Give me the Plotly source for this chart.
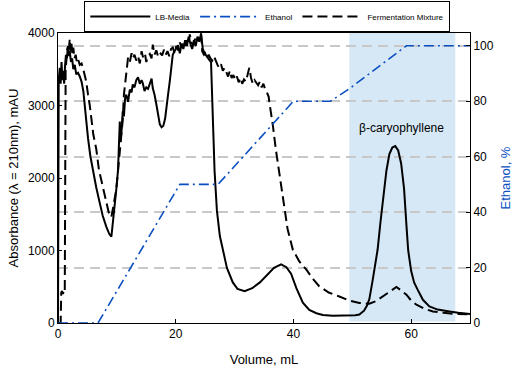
import plotly.graph_objects as go

# ---------------- data ----------------
lb_x = [0, 0.12, 0.3, 0.45, 0.6, 0.75, 0.9, 1.05, 1.2, 1.35, 1.5, 1.7, 1.85, 2.0, 2.2, 2.4, 2.6, 2.85,
        3.1, 3.4, 3.7, 4.0, 4.3, 4.7, 5.1, 5.5, 5.94, 6.5, 7.08, 7.6, 8.2, 8.7, 9.07, 9.3, 9.6, 9.9,
        10.2, 10.4, 10.5, 10.6, 10.8, 11.0, 11.2, 11.4, 11.6, 11.9, 12.2, 12.5, 12.7, 13.0, 13.3, 13.6,
        13.9, 14.2, 14.4, 14.7, 15.0, 15.3, 15.6, 15.9, 16.1, 16.4, 16.7, 17.0, 17.3, 17.6, 17.9, 18.2,
        18.4, 18.7, 19.0, 19.3, 19.5, 19.8, 20.1, 20.4, 20.7, 21.0, 21.3, 21.6, 21.9, 22.2, 22.5, 22.8,
        23.1, 23.4, 23.7, 24.0, 24.3, 24.6, 24.9, 25.2, 25.5, 25.8, 26.0, 26.2, 26.4, 26.6, 26.8, 27.0,
        27.5, 28.0, 28.7, 29.7, 30.5, 31.7, 33.0, 34.3, 35.4, 36.7, 37.9, 38.8, 39.6, 40.5, 41.6, 42.7,
        43.9, 45.0, 46.7, 48.0, 49.5, 50.5, 51.2, 52.0, 52.5, 52.9, 53.4, 53.8, 54.3, 54.8, 55.3, 55.8,
        56.3, 56.8, 57.3, 57.8, 58.3, 58.8, 59.2, 59.5, 60.0, 60.5, 61.1, 62.0, 63.1, 64.5, 66.5, 68.0, 70.0]
lb_y = [0, 3350, 3520, 3300, 3600, 3350, 3480, 3300, 3550, 3700, 3650, 3820, 3680, 3750, 3600, 3650, 3500, 3560,
        3430, 3450, 3400, 3330, 3200, 2850, 2550, 2300, 2100, 1870, 1660, 1480, 1330, 1230, 1190, 1350, 1600, 1840,
        2110, 2450, 2780, 2500, 2650, 2920, 2850, 3100, 3150, 3050, 3220, 3180, 3290, 3250, 3350, 3390,
        3300, 3350, 3310, 3200, 3250, 3230, 3300, 3370, 3240, 3150, 3020, 2850, 2740, 2700, 2720, 2820,
        2930, 3150, 3340, 3550, 3700, 3750, 3800, 3830, 3720, 3850, 3780, 3900, 3820, 3950, 3850, 3780,
        3900, 3820, 3950, 3880, 3990, 3780, 3720, 3680, 3650, 3620, 3600, 3200, 2600, 2100, 1750, 1550,
        1200, 1000, 760, 560, 470, 440, 480, 560, 650, 760, 810, 770, 680, 480, 280, 180,
        135, 110, 100, 100, 102, 108, 118, 170, 240, 330, 560, 780, 1010, 1400, 1800, 2100,
        2330, 2420, 2440, 2380, 2200, 1850, 1350, 1000, 720, 560, 460, 320, 230, 185, 160, 140, 125]

fm_x = [0, 0.45, 0.55, 0.7, 0.85, 1.0, 1.15, 1.22, 1.3, 1.45, 1.6, 1.75, 1.9, 2.0, 2.15, 2.3, 2.45, 2.6,
        2.8, 3.0, 3.2, 3.4, 3.7, 4.0, 4.24, 4.5, 4.8, 5.1, 5.4, 6.0, 6.5, 6.96, 7.6, 8.2, 8.6, 9.07, 9.4,
        9.9, 10.2, 10.5, 10.8, 11.0, 11.2, 11.4, 11.6, 11.9, 12.2, 12.5, 12.7, 13.0, 13.3, 13.6, 13.9,
        14.2, 14.5, 14.8, 15.0, 15.3, 15.6, 15.9, 16.1, 16.4, 16.7, 17.0, 17.3, 17.7, 18.0, 18.3, 18.6,
        18.9, 19.2, 19.5, 19.8, 20.1, 20.4, 20.7, 21.0, 21.3, 21.6, 21.9, 22.2, 22.4, 22.7, 23.0, 23.3,
        23.6, 23.8, 24.1, 24.3, 24.5, 24.8, 25.0, 25.3, 25.6, 25.9, 26.2, 26.5, 26.8, 27.1, 27.4, 27.7,
        28.0, 28.3, 28.6, 28.9, 29.2, 29.5, 29.8, 30.1, 30.4, 30.7, 31.0, 31.3, 31.6, 31.9, 32.2, 32.5,
        32.8, 33.1, 33.4, 33.7, 34.0, 34.3, 34.6, 34.9, 35.2, 35.5, 35.8, 35.9, 36.2, 36.5, 37.0, 37.6,
        38.2, 39.0, 39.9, 41.0, 42.2, 43.3, 44.4, 46.0, 47.8, 49.5, 51.2, 52.9, 54.0, 55.2, 56.3, 57.5,
        58.3, 59.2, 60.0, 60.9, 62.3, 63.7, 65.5, 67.1, 70.0]
fm_y = [0, 0, 420, 440, 400, 450, 430, 2500, 3500, 3650, 3800, 3700, 3880, 3920, 3750, 3850, 3700, 3800,
        3650, 3700, 3600, 3640, 3560, 3580, 3520, 3420, 3330, 3150, 3000, 2600, 2400, 2110, 1880, 1680, 1530, 1460, 1600,
        1840, 2100, 2340, 2650, 2800, 3150, 3300, 3500, 3660, 3600, 3720, 3650, 3700, 3620, 3680, 3580,
        3750, 3650, 3700, 3600, 3680, 3710, 3650, 3840, 3700, 3760, 3680, 3730, 3690, 3770, 3700, 3750,
        3680, 3780, 3800, 3720, 3820, 3760, 3870, 3800, 3890, 3820, 3900, 3850, 3980, 3860, 3840, 3920,
        3870, 3940, 3900, 4000, 3750, 3700, 3720, 3660, 3700, 3650, 3620, 3680, 3610, 3560, 3520, 3570,
        3480, 3520, 3460, 3400, 3480, 3380, 3420, 3350, 3400, 3320, 3380, 3300, 3360, 3330, 3420, 3520,
        3380, 3300, 3350, 3320, 3280, 3330, 3250, 3300, 3220, 3180, 3120, 3050, 2900, 2730, 2400, 2050,
        1700, 1300, 1010, 850, 735, 610, 505, 420, 365, 310, 276, 266, 300, 367, 430, 497,
        450, 390, 310, 252, 195, 160, 140, 128, 118]

eth_x = [0, 6.8, 20.7, 27.2, 40.0, 46.3, 49.5, 59.2, 70.0]
eth_y = [0, 0, 50, 50, 80, 80, 84.5, 100, 100]

shade_range = [49.5, 67.5]
peak_label = "β-caryophyllene"
peak_pos = (58.3, 2690)

x_ticks = [0, 20, 40, 60]
y_ticks = [0, 1000, 2000, 3000, 4000]
y2_ticks = [0, 20, 40, 60, 80, 100]

FONT = "Arial, Liberation Sans, sans-serif"
BLUE = "#0a4fc2"

fig = go.Figure()
fig.add_trace(go.Scatter(x=lb_x, y=lb_y, mode="lines", name="LB-Media",
                         line=dict(color="black", width=2)))
fig.add_trace(go.Scatter(x=eth_x, y=eth_y, mode="lines", name="Ethanol", yaxis="y2",
                         line=dict(color=BLUE, width=1.6, dash="10px,4px,2px,4px")))
fig.add_trace(go.Scatter(x=fm_x, y=fm_y, mode="lines", name="Fermentation Mixture",
                         line=dict(color="black", width=2, dash="10px,5px")))

fig.add_shape(type="rect", xref="x", yref="paper", x0=shade_range[0], x1=shade_range[1],
              y0=0.005, y1=1, fillcolor="#d6e8f6", line=dict(width=0), layer="below")

fig.add_annotation(x=peak_pos[0], y=peak_pos[1], text=peak_label, showarrow=False,
                   font=dict(family=FONT, size=12, color="black"))

fig.update_layout(
    width=529, height=370,
    margin=dict(l=58, r=59, t=33, b=47, autoexpand=False),
    paper_bgcolor="white", plot_bgcolor="white",
    font=dict(family=FONT, size=12, color="black"),
    showlegend=True,
    legend=dict(orientation="h", x=0.508, xanchor="center", y=1.11, yanchor="top",
                bordercolor="black", borderwidth=1, bgcolor="white",
                font=dict(family=FONT, size=8), itemwidth=60, tracegroupgap=0),
    xaxis=dict(range=[0, 70], tickvals=x_ticks, showgrid=False, zeroline=False,
               showline=True, linecolor="black", linewidth=1, mirror=True,
               ticks="inside", ticklen=4, tickcolor="black", automargin=False,
               title=dict(text="Volume, mL", font=dict(size=13), standoff=14),
               tickfont=dict(size=12)),
    yaxis=dict(range=[0, 4000], tickvals=y_ticks, showgrid=False, zeroline=False,
               showline=True, linecolor="black", linewidth=1, mirror=True,
               ticks="inside", ticklen=4, tickcolor="black", automargin=False,
               title=dict(text="Absorbance (λ = 210nm), mAU", font=dict(size=13), standoff=6),
               tickfont=dict(size=12)),
    yaxis2=dict(range=[0, 104.6], tickvals=y2_ticks, overlaying="y", side="right",
                showgrid=True, gridcolor="#c8c8c8", gridwidth=1.5, griddash="10px,6px",
                zeroline=False, showline=True, linecolor="black", linewidth=1,
                ticks="inside", ticklen=4, tickcolor="black", automargin=False,
                title=dict(text="Ethanol, %", font=dict(size=13, color=BLUE), standoff=8),
                tickfont=dict(size=12)),
)

fig.write_html("out.html", config={"displayModeBar": False},
               post_script="document.body.style.margin='0';document.body.style.padding='0';")
